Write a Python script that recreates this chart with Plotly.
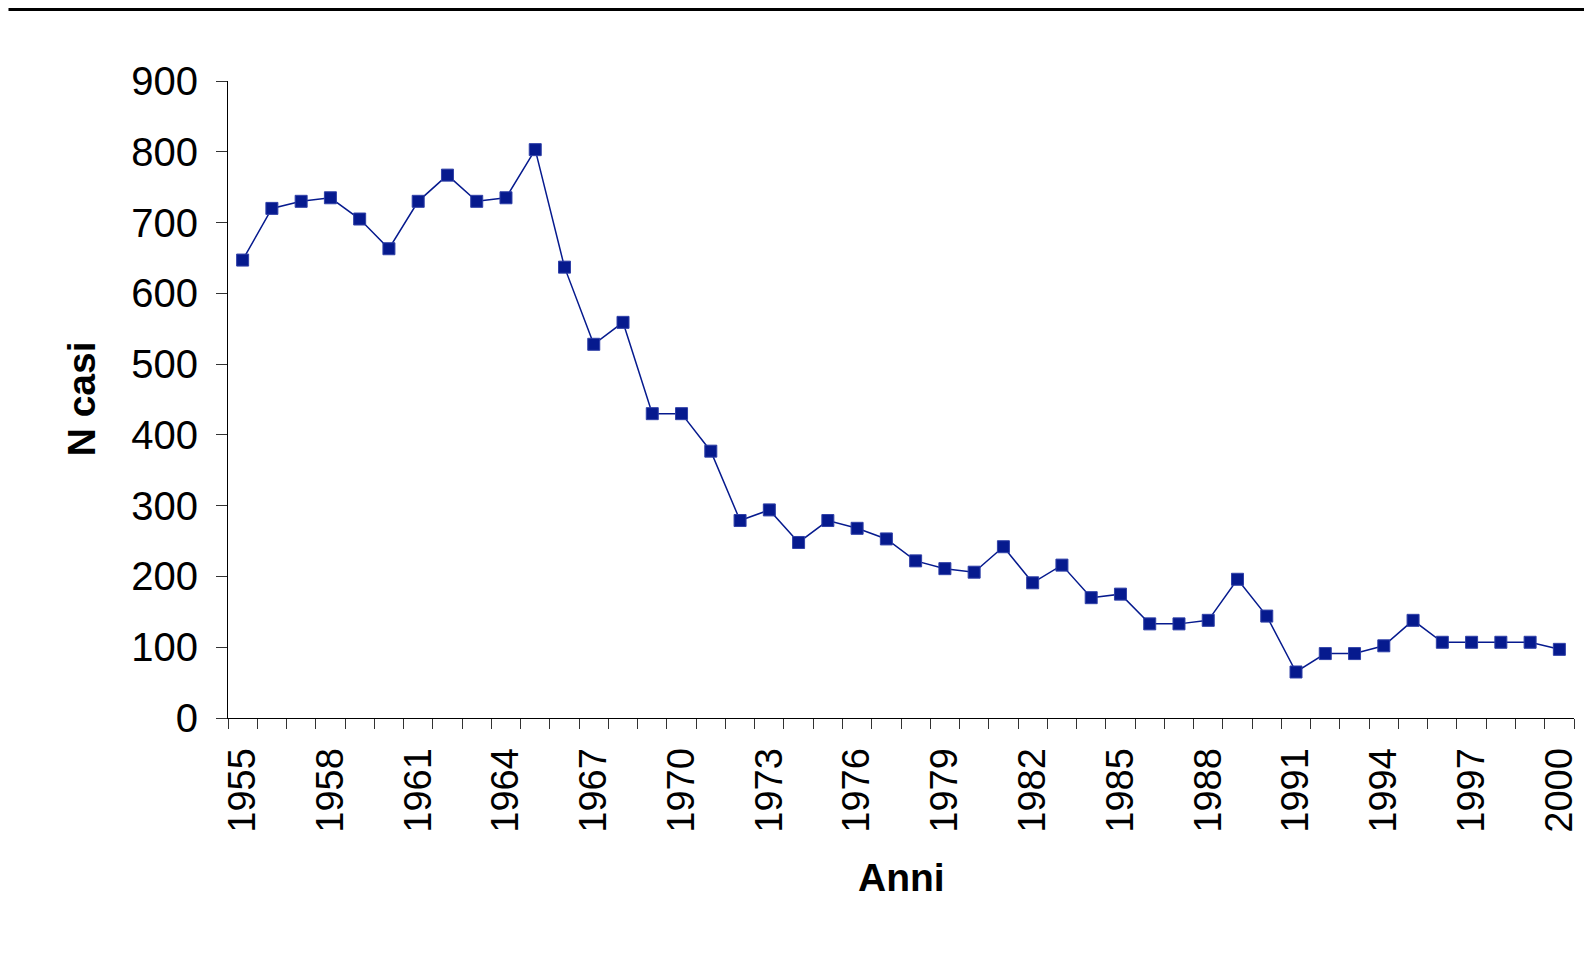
import plotly.graph_objects as go

years = list(range(1955, 2001))
casi = [647, 720, 730, 735, 705, 663, 730, 767, 730, 735,
        803, 637, 528, 559, 430, 430, 377, 279, 294, 248,
        279, 268, 253, 222, 211, 206, 242, 191, 216, 170,
        175, 133, 133, 138, 196, 144, 65, 91, 91, 102,
        138, 107, 107, 107, 107, 97]
label_years = years[::3]
label_text = [str(y) for y in label_years]
y_ticks = list(range(0, 1000, 100))

# the page body adds an 8px offset; figure coordinates = screen - 8
OFF = 8
W, H = 1592 - OFF, 957 - OFF
L, R, T, B = 228 - OFF, 1577 - OFF, 81 - OFF, 718 - OFF
pw, ph = R - L, B - T


def px(xp):
    return (xp - L) / pw


def py(yp):
    return (B - yp) / ph


color = "#061A8E"
font = "Liberation Sans, Arial, sans-serif"

fig = go.Figure()
fig.add_trace(go.Scatter(
    x=years, y=casi, mode="lines+markers",
    line=dict(color=color, width=1.5),
    marker=dict(symbol="square", size=12, color=color,
                line=dict(color="#3040A8", width=1)),
    showlegend=False, hoverinfo="x+y"))

fig.update_layout(
    width=W, height=H,
    margin=dict(l=L, r=W - R, t=T, b=H - B, pad=0),
    paper_bgcolor="white", plot_bgcolor="white",
    font=dict(family=font, color="black"),
    xaxis=dict(
        range=[years[0] - 0.5, years[-1] + 0.5],
        tickmode="array", tickvals=label_years, ticktext=label_text,
        tickangle=-90, ticks="", showgrid=False, zeroline=False,
        showline=True, linecolor="black", linewidth=1,
        tickfont=dict(size=38, family=font, color="black"),
        ticklabelstandoff=14,
        minor=dict(ticks="outside", tick0=years[0] - 0.5, dtick=1,
                   ticklen=10, tickcolor="#333333", tickwidth=1,
                   showgrid=False),
    ),
    yaxis=dict(
        range=[0, 900], tickmode="array", tickvals=y_ticks,
        ticks="outside", ticklen=11, tickcolor="#333333", tickwidth=1,
        showgrid=False, zeroline=False,
        showline=True, linecolor="black", linewidth=1,
        tickfont=dict(size=40, family=font, color="black"),
        ticklabelstandoff=10,
    ),
    annotations=[
        dict(text="<b>Anni</b>", xref="paper", yref="paper",
             x=0.5, y=py(877 - OFF), xanchor="center", yanchor="middle",
             showarrow=False, font=dict(size=39, family=font, color="black")),
        dict(text="<b>N casi</b>", xref="paper", yref="paper",
             x=px(81 - OFF), y=py(399 - OFF), xanchor="center", yanchor="middle",
             textangle=-90, showarrow=False,
             font=dict(size=39, family=font, color="black")),
    ],
    shapes=[
        dict(type="rect", xref="paper", yref="paper",
             x0=px(0), x1=px(W), y0=py(11 - OFF), y1=py(0),
             fillcolor="black", line=dict(width=0), layer="above"),
    ],
)

fig.write_html("out.html")
